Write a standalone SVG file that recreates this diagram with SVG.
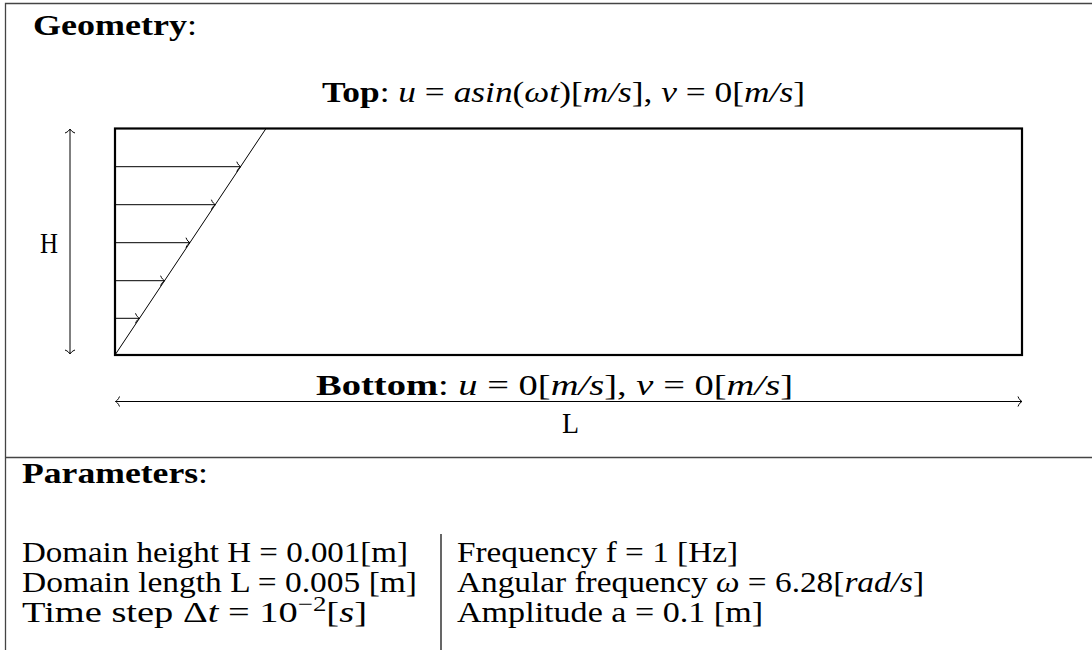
<svg xmlns="http://www.w3.org/2000/svg" width="1092" height="650" viewBox="0 0 1092 650">
<style>
text{font-family:"Liberation Serif","Times New Roman",serif;font-size:30px;fill:#000}
.b{font-weight:bold}
.i{font-style:italic}
.n{font-weight:normal}
.frame{stroke:#444;stroke-width:1.3;fill:none}
.arr{stroke:#000;stroke-width:1;fill:none}
</style>
<defs>
<marker id="ah" markerUnits="userSpaceOnUse" markerWidth="12" markerHeight="12" viewBox="-6 -6 12 12" refX="0" refY="0" orient="auto-start-reverse">
<path d="M-4,-5 C-3,-2 -1,-0.6 0,0 C-1,0.6 -3,2 -4,5" fill="none" stroke="#000" stroke-width="1"/>
</marker>
</defs>
<rect width="1092" height="650" fill="#fff"/>
<g id="frame">
<path class="frame" d="M5.5,650 V3.5 H1092"/>
<path class="frame" d="M5.5,457.5 H1092"/>
<path d="M441,534 V650" stroke="#000" stroke-width="1.2"/>
</g>
<g id="domain">
<rect x="115" y="128.5" width="907" height="226.5" fill="none" stroke="#000" stroke-width="2.2"/>
<line x1="115" y1="355" x2="266" y2="128.5" stroke="#000" stroke-width="1"/>
</g>
<g id="connectors">
<line class="arr" x1="115" y1="166.7" x2="240.8" y2="166.7" marker-end="url(#ah)"/>
<line class="arr" x1="115" y1="204.7" x2="215.4" y2="204.7" marker-end="url(#ah)"/>
<line class="arr" x1="115" y1="242.7" x2="190" y2="242.7" marker-end="url(#ah)"/>
<line class="arr" x1="115" y1="280.7" x2="164.6" y2="280.7" marker-end="url(#ah)"/>
<line class="arr" x1="115" y1="318.3" x2="139.5" y2="318.3" marker-end="url(#ah)"/>
<line class="arr" x1="70" y1="129" x2="70" y2="354" marker-start="url(#ah)" marker-end="url(#ah)"/>
<line class="arr" x1="115.5" y1="401.5" x2="1022" y2="401.5" marker-start="url(#ah)" marker-end="url(#ah)"/>
</g>
<g id="labels">
<text x="33" y="35" class="b" textLength="164" lengthAdjust="spacingAndGlyphs">Geometry<tspan class="n">:</tspan></text>
<text x="322" y="102" textLength="483" lengthAdjust="spacingAndGlyphs"><tspan class="b">Top</tspan>:  <tspan class="i">u</tspan> = <tspan class="i">asin</tspan>(<tspan class="i">ωt</tspan>)[<tspan class="i">m/s</tspan>], <tspan class="i">v</tspan> = 0[<tspan class="i">m/s</tspan>]</text>
<text x="40" y="253" textLength="18" lengthAdjust="spacingAndGlyphs">H</text>
<text x="316" y="395" textLength="477" lengthAdjust="spacingAndGlyphs"><tspan class="b">Bottom</tspan>:  <tspan class="i">u</tspan> = 0[<tspan class="i">m/s</tspan>], <tspan class="i">v</tspan> = 0[<tspan class="i">m/s</tspan>]</text>
<text x="562" y="433" textLength="17" lengthAdjust="spacingAndGlyphs">L</text>
<text x="22" y="483" class="b" textLength="186" lengthAdjust="spacingAndGlyphs">Parameters<tspan class="n">:</tspan></text>
</g>
<g id="table">
<text x="22" y="562" textLength="386" lengthAdjust="spacingAndGlyphs">Domain height H = 0.001[m]</text>
<text x="22" y="592" textLength="395" lengthAdjust="spacingAndGlyphs">Domain length L = 0.005 [m]</text>
<text x="22" y="622" textLength="345" lengthAdjust="spacingAndGlyphs">Time step Δ<tspan class="i">t</tspan> = 10<tspan dy="-11" font-size="21">−2</tspan><tspan dy="11">[</tspan><tspan class="i">s</tspan>]</text>
<text x="457" y="562" textLength="281" lengthAdjust="spacingAndGlyphs">Frequency f = 1 [Hz]</text>
<text x="457" y="592" textLength="467" lengthAdjust="spacingAndGlyphs">Angular frequency <tspan class="i">ω</tspan> = 6.28[<tspan class="i">rad/s</tspan>]</text>
<text x="457" y="622" textLength="306" lengthAdjust="spacingAndGlyphs">Amplitude a = 0.1 [m]</text>
</g>
</svg>
